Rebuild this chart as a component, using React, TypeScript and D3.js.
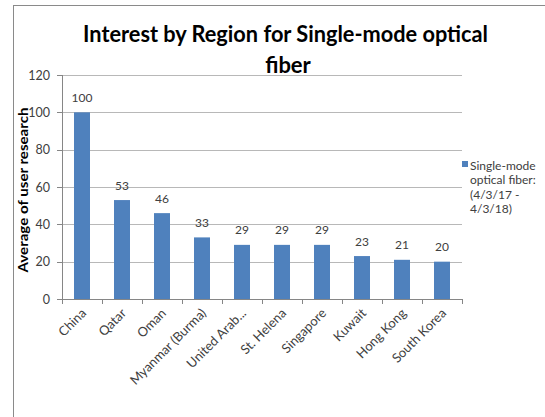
import React from "react";
import * as d3 from "d3";

const categories = [
  "China",
  "Qatar",
  "Oman",
  "Myanmar (Burma)",
  "United Arab...",
  "St. Helena",
  "Singapore",
  "Kuwait",
  "Hong Kong",
  "South Korea",
];
const values = [100, 53, 46, 33, 29, 29, 29, 23, 21, 20];
const yTicks = [0, 20, 40, 60, 80, 100, 120];
const titleLines = ["Interest by Region for Single-mode optical", "fiber"];
const yAxisTitle = "Average of user research";
const legendLines = ["Single-mode", "optical fiber:", "(4/3/17 -", "4/3/18)"];

const W = 545;
const H = 417;
const FONT = "Lato, 'Open Sans', 'DejaVu Sans', sans-serif";
const BAR = "#4F81BD";
const TEXT = "#404040";

export default function App() {
  const plotL = 62;
  const plotR = 462;
  const plotT = 75;
  const plotB = 299;

  const x = d3
    .scaleBand<string>()
    .domain(categories)
    .range([plotL, plotR])
    .paddingInner(0.6)
    .paddingOuter(0.3);
  const y = d3.scaleLinear().domain([0, 120]).range([plotB, plotT]);
  const step = (plotR - plotL) / categories.length;

  return (
    <div style={{ position: "absolute", left: 0, top: 0 }}>
      <svg width={W} height={H} style={{ display: "block" }} fontFamily={FONT}>
        <rect x={0} y={0} width={W} height={H} fill="#fff" />
        <rect x={13.5} y={5.5} width={W + 20} height={H + 20} fill="#fff" stroke="#8a8a8a" strokeWidth={1} />

        {/* title */}
        <text x={285.5} y={41.5} textAnchor="middle" fontWeight="bold" fontSize={22} fill="#000"
          textLength={405} lengthAdjust="spacingAndGlyphs">
          {titleLines[0]}
        </text>
        <text x={288} y={73} textAnchor="middle" fontWeight="bold" fontSize={22} fill="#000">
          {titleLines[1]}
        </text>

        {/* gridlines */}
        {yTicks.filter((t) => t > 0).map((t) => (
          <line key={"g" + t} x1={plotL} x2={plotR} y1={Math.round(y(t)) + 0.5} y2={Math.round(y(t)) + 0.5}
            stroke="#b8b8b8" strokeWidth={1} />
        ))}

        {/* bars */}
        {categories.map((c, i) => (
          <rect key={c} x={x(c)} y={y(values[i])} width={x.bandwidth()} height={plotB - y(values[i])} fill={BAR} />
        ))}

        {/* data labels */}
        {categories.map((c, i) => (
          <text key={"l" + c} x={(x(c) as number) + x.bandwidth() / 2} y={y(values[i]) - 10.5}
            textAnchor="middle" fontSize={12} fill={TEXT}>
            {values[i]}
          </text>
        ))}

        {/* y axis */}
        <line x1={plotL + 0.5} x2={plotL + 0.5} y1={plotT} y2={plotB} stroke="#868686" />
        {yTicks.map((t) => (
          <g key={"t" + t}>
            <line x1={plotL - 5} x2={plotL} y1={Math.round(y(t)) + 0.5} y2={Math.round(y(t)) + 0.5} stroke="#868686" />
            <text x={plotL - 12} y={y(t) + 4.5} textAnchor="end" fontSize={12.5} fill={TEXT}>
              {t}
            </text>
          </g>
        ))}

        {/* x axis */}
        <line x1={plotL} x2={plotR} y1={plotB + 0.5} y2={plotB + 0.5} stroke="#868686" />
        {d3.range(categories.length + 1).map((i) => (
          <line key={"xt" + i} x1={Math.round(plotL + i * step) + 0.5} x2={Math.round(plotL + i * step) + 0.5}
            y1={plotB} y2={plotB + 5} stroke="#868686" />
        ))}
        {categories.map((c) => {
          const cx = (x(c) as number) + x.bandwidth() / 2 + 5;
          const cy = plotB + 15;
          return (
            <text key={"x" + c} x={cx} y={cy} transform={`rotate(-45 ${cx} ${cy})`} textAnchor="end"
              fontSize={13} fill={TEXT}>
              {c}
            </text>
          );
        })}

        {/* y axis title */}
        <text transform={`translate(28 ${190}) rotate(-90)`} textAnchor="middle" fontWeight="bold"
          fontSize={12.5} fill="#000" textLength={165} lengthAdjust="spacingAndGlyphs">
          {yAxisTitle}
        </text>

        {/* legend */}
        <rect x={462} y={161} width={6} height={6} fill={BAR} />
        {legendLines.map((l, i) => (
          <text key={"lg" + i} x={470} y={170 + i * 14.3} fontSize={12} fill={TEXT}>
            {l}
          </text>
        ))}
      </svg>
    </div>
  );
}
